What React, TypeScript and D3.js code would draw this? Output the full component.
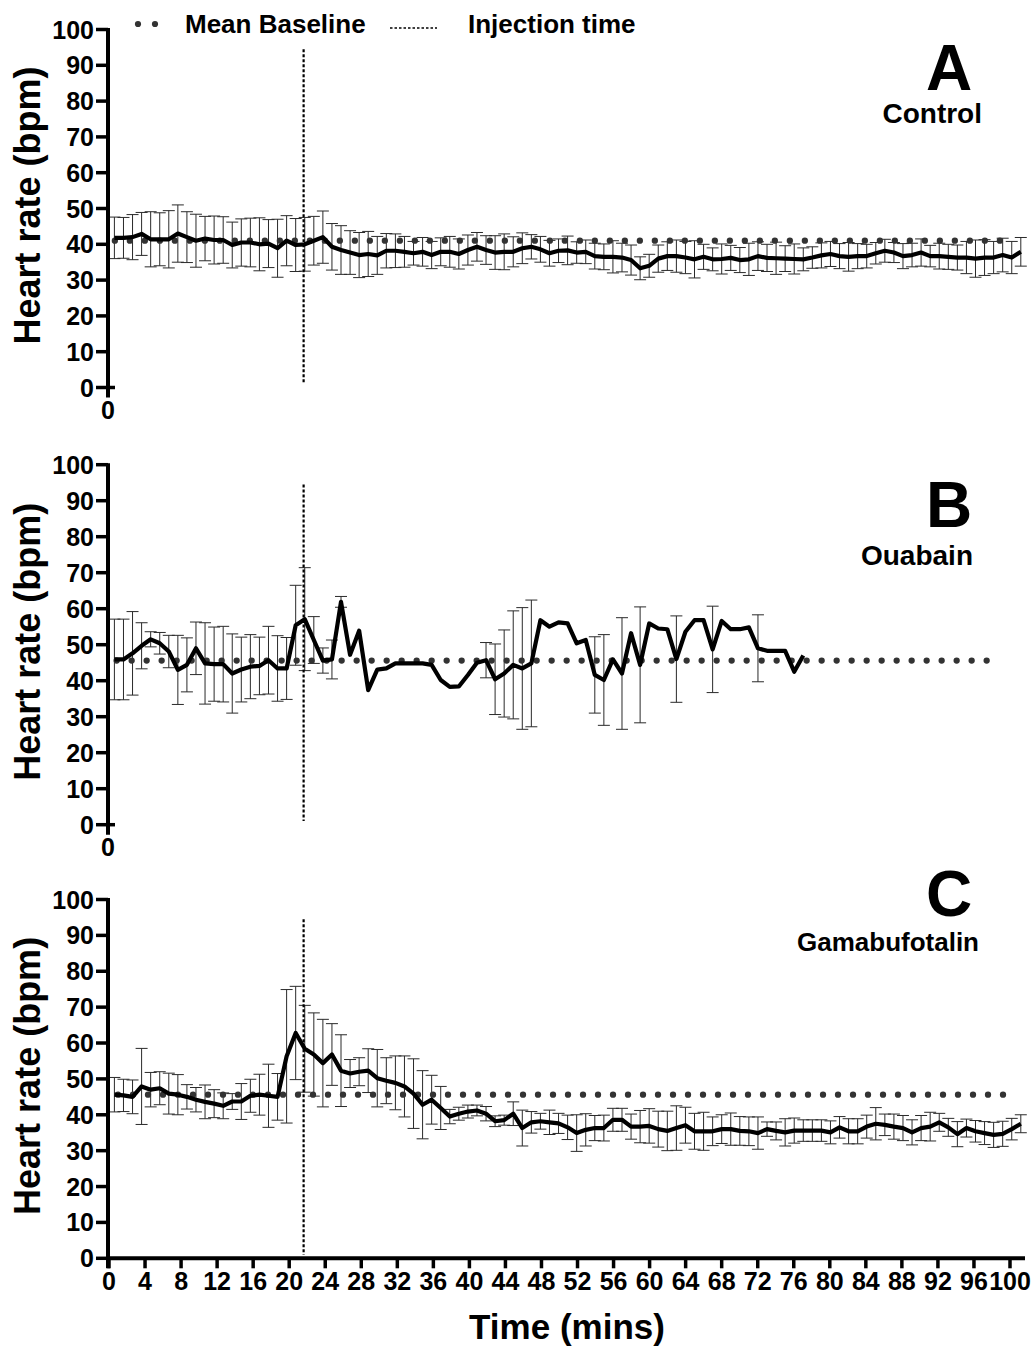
import React from "react";
import * as d3 from "d3";

// ---- data (heart rate, bpm; one sample per minute) ----
const controlMean = [
  41.8, 41.8, 42.0, 42.9, 41.4, 41.4, 41.4, 43.0, 42.0, 41.0, 41.6,
  41.2, 41.2, 39.8, 40.5, 40.5, 40.0, 40.2, 38.9, 41.0, 39.8,
  40.0, 41.0, 42.0, 39.3, 38.4, 37.7, 37.0, 37.3, 36.9, 38.2,
  38.2, 37.9, 37.5, 37.9, 37.0, 37.9, 37.9, 37.3, 38.4, 39.3,
  38.4, 37.7, 37.9, 37.9, 38.9, 39.3, 38.6, 37.5, 38.2, 38.3,
  37.7, 37.9, 36.7, 36.5, 36.5, 36.3, 35.6, 33.3, 34.0, 36.0,
  36.7, 36.7, 36.3, 35.8, 36.5, 35.8, 35.9, 36.2, 35.6, 35.8,
  36.7, 36.2, 36.1, 36.0, 35.9, 35.8, 36.3, 36.9, 37.3, 36.7,
  36.5, 36.7, 36.7, 37.5, 38.2, 37.7, 36.7, 37.0, 37.7, 36.7,
  36.7, 36.5, 36.3, 36.3, 36.0, 36.3, 36.3, 37.0, 36.3, 37.9,
];
const controlErr = [
  5.8, 5.7, 6.3, 6.0, 7.7, 7.4, 8.0, 8.0, 7.1, 7.4, 6.2,
  6.7, 6.5, 6.4, 6.6, 6.8, 7.4, 6.7, 8.1, 7.0, 7.4,
  7.5, 6.8, 7.3, 6.5, 6.8, 6.1, 6.3, 6.3, 5.3, 4.8,
  4.7, 4.3, 3.3, 4.0, 3.8, 3.9, 4.3, 4.2, 4.2, 4.0,
  4.0, 4.7, 5.0, 4.2, 4.3, 3.4, 3.6, 3.6, 3.3, 4.0,
  3.0, 3.3, 3.6, 3.6, 4.5, 4.0, 4.2, 3.2, 3.2, 3.8,
  4.0, 4.5, 4.5, 5.2, 3.5, 3.2, 4.2, 3.5, 3.5, 4.5,
  4.0, 3.8, 4.5, 3.6, 4.2, 3.2, 3.0, 3.5, 3.5, 3.5,
  4.0, 3.5, 3.3, 3.0, 3.2, 2.8, 3.5, 3.3, 3.8, 3.0,
  3.6, 3.5, 3.5, 4.5, 5.2, 5.0, 4.5, 4.7, 4.5, 4.0,
];

const ouabainMean = [
  45.9, 45.9, 47.6, 49.7, 51.5, 50.4, 48.1, 43.0, 44.4, 49.0, 44.8,
  44.6, 44.6, 42.0, 43.1, 43.9, 44.1, 45.7, 43.4, 43.4, 55.4,
  57.1, 51.3, 45.6, 45.9, 61.9, 47.2, 53.9, 37.4, 43.1, 43.4,
  44.8, 44.8, 44.8, 44.8, 44.4, 40.2, 38.3, 38.4, 41.6, 45.0,
  45.7, 40.4, 42.0, 44.4, 43.4, 44.8, 56.8, 55.0, 56.2, 55.9,
  50.4, 51.3, 41.6, 40.2, 45.9, 42.0, 53.2, 44.4, 55.9, 54.5,
  54.3, 46.0, 53.6, 56.8, 56.8, 48.7, 56.6, 54.3, 54.3, 54.8,
  49.0, 48.3, 48.3, 48.3, 42.5, 47.0,
];
const ouabainErr: (number | null)[] = [
  11.2, 11.2, 11.6, 6.4, 2.1, 3.0, 4.5, 9.6, 7.5, 7.3, 11.3,
  10.3, 10.5, 11.0, 9.0, 8.9, 8.0, 9.4, 9.1, 8.6, 11.1,
  14.3, 6.5, 3.5, 5.4, 1.5, null, null, null, null, null,
  null, null, null, null, null, null, null, null, null, null,
  4.9, 9.8, 12.1, 15.0, 16.9, 17.6, null, null, null, null,
  null, null, 10.6, 12.6, null, 15.5, null, 16.1, null, null,
  null, 12.0, null, null, null, 12.0, null, null, null, null,
  9.3, null, null, null, null, null,
];

const gamabufotalinMean = [
  45.6, 45.4, 45.0, 47.9, 47.0, 47.4, 45.9, 45.6, 45.0, 44.2, 43.6,
  43.1, 42.5, 43.7, 43.7, 45.3, 45.6, 45.3, 45.0, 56.3, 62.8,
  58.4, 56.8, 54.4, 56.8, 52.3, 51.5, 52.0, 52.3, 50.2, 49.5,
  48.9, 47.9, 45.9, 42.8, 44.2, 41.9, 39.5, 40.3, 40.9, 41.2,
  40.3, 38.2, 38.5, 40.3, 36.3, 37.9, 38.2, 37.9, 37.6, 36.5,
  34.9, 35.8, 36.3, 36.3, 38.6, 38.6, 36.7, 36.7, 36.9, 36.0,
  35.5, 36.3, 37.1, 35.4, 35.4, 35.4, 36.0, 36.0, 35.5, 35.4,
  34.9, 36.0, 35.5, 35.1, 35.6, 35.6, 35.6, 35.6, 35.1, 36.5,
  35.4, 35.4, 36.7, 37.5, 37.2, 36.7, 36.3, 35.1, 36.3, 36.7,
  37.9, 36.5, 34.6, 36.3, 35.4, 34.9, 34.4, 34.7, 36.0, 37.5,
];
const gamabufotalinErr = [
  4.8, 4.5, 4.7, 10.6, 4.8, 4.6, 5.7, 5.6, 3.4, 3.4, 4.7,
  3.9, 3.6, 2.2, 5.0, 4.6, 5.7, 8.8, 6.5, 18.6, 13.0,
  12.1, 11.6, 12.2, 8.6, 10.0, 3.9, 3.9, 6.1, 8.0, 6.4,
  7.5, 8.5, 9.7, 9.5, 6.8, 6.0, 2.0, 1.8, 1.8, 1.5,
  2.0, 1.5, 1.4, 3.3, 5.0, 3.0, 2.2, 3.4, 2.8, 3.4,
  5.1, 4.5, 3.5, 3.6, 3.2, 3.2, 3.5, 4.5, 4.8, 5.0,
  5.5, 6.2, 5.0, 5.0, 5.3, 4.0, 4.0, 4.5, 4.0, 4.0,
  4.5, 2.0, 2.5, 3.8, 3.5, 3.0, 3.0, 3.0, 3.2, 3.0,
  3.5, 3.5, 3.2, 4.5, 3.0, 3.5, 3.5, 3.5, 3.5, 4.0,
  2.5, 2.5, 3.5, 2.5, 3.0, 3.2, 3.5, 3.5, 3.0, 2.5,
];

const panelLetters = ["A", "B", "C"];
const panelNames = ["Control", "Ouabain", "Gamabufotalin"];
const meanBaselines = [41, 45.6, 45.6];
const baselineSpans = [[0.65, 100.4], [0.85, 98.4], [1.0, 100.4]];
const injectionTime = 21.6;
const injectionSpan = [1, 94.5];

const yTicks = [0, 10, 20, 30, 40, 50, 60, 70, 80, 90, 100];
const xTicks = [0, 4, 8, 12, 16, 20, 24, 28, 32, 36, 40, 44, 48, 52, 56, 60, 64, 68, 72, 76, 80, 84, 88, 92, 96, 100];

// sampling clock (minutes) of the recordings
const firstSample = 0.6;
const sampleInterval = 1.006;
const sampleTime = (i: number) => firstSample + i * sampleInterval;

const FONT = "'Liberation Sans', Arial, Helvetica, sans-serif";

const W = 1033;
const H = 1350;
const axisX = 108;
const x = d3.scaleLinear().domain([0, 100]).range([109, 1010]);
const xAxisEnd = 1025;

const panelTops = [29.5, 464.7, 899.5];
const panelBottoms = [387.5, 824.7, 1258.3];

type Series = { mean: number[]; err: (number | null)[] };
const series: Series[] = [
  { mean: controlMean, err: controlErr },
  { mean: ouabainMean, err: ouabainErr },
  { mean: gamabufotalinMean, err: gamabufotalinErr },
];

const TICK_FONT = 25;

function Panel({ k }: { k: number }) {
  const y = d3.scaleLinear().domain([0, 100]).range([panelBottoms[k], panelTops[k]]);
  const { mean, err } = series[k];
  const line = d3
    .line<number>()
    .x((_, i) => x(sampleTime(i)))
    .y((d) => y(d));
  const y0 = y(0);
  const showXAxis = k === 2;
  const mid = (panelTops[k] + panelBottoms[k]) / 2;
  const letterBase = [90, 527, 916][k];
  const nameBase = [123, 565, 951][k];
  const nameSize = [28, 28, 26][k];
  const nameRight = [982, 973, 979][k];

  return (
    <g>
      {/* error bars */}
      <g stroke="#2a2a2a" strokeWidth={1} fill="none">
        {mean.map((m, i) => {
          const e = err[i];
          if (e == null) return null;
          const cx = x(sampleTime(i));
          const yt = y(m + e);
          const yb = y(m - e);
          return (
            <g key={i}>
              <line x1={cx} x2={cx} y1={yt} y2={yb} />
              <line x1={cx - 6} x2={cx + 6} y1={yt} y2={yt} />
              <line x1={cx - 6} x2={cx + 6} y1={yb} y2={yb} />
            </g>
          );
        })}
      </g>

      {/* mean baseline */}
      <line
        x1={x(baselineSpans[k][0])}
        x2={x(baselineSpans[k][1])}
        y1={y(meanBaselines[k])}
        y2={y(meanBaselines[k])}
        stroke="#333"
        strokeWidth={6.3}
        strokeLinecap="round"
        strokeDasharray="0 15"
      />

      {/* mean heart rate */}
      <path d={line(mean) ?? ""} fill="none" stroke="#000" strokeWidth={4.2} strokeLinejoin="round" />

      {/* injection time */}
      <line
        x1={x(injectionTime)}
        x2={x(injectionTime)}
        y1={y(injectionSpan[1])}
        y2={y(injectionSpan[0])}
        stroke="#000"
        strokeWidth={2.2}
        strokeDasharray="3 2"
      />

      {/* y axis */}
      <line x1={axisX} x2={axisX} y1={y(100) - 1.5} y2={y0 + 10} stroke="#000" strokeWidth={4} />
      {yTicks.map((t) => (
        <g key={t}>
          <line x1={axisX - 12} x2={axisX} y1={y(t)} y2={y(t)} stroke="#000" strokeWidth={3.5} />
          <text
            x={axisX - 14}
            y={y(t)}
            dy="0.36em"
            textAnchor="end"
            fontFamily={FONT}
            fontWeight="bold"
            fontSize={TICK_FONT}
          >
            {t}
          </text>
        </g>
      ))}

      {/* x axis */}
      {showXAxis ? (
        <g>
          <line x1={axisX - 2} x2={xAxisEnd} y1={y0} y2={y0} stroke="#000" strokeWidth={4} />
          {xTicks.map((t) => (
            <g key={t}>
              <line x1={x(t)} x2={x(t)} y1={y0} y2={y0 + 10} stroke="#000" strokeWidth={3.5} />
              <text
                x={x(t)}
                y={y0 + 32}
                textAnchor="middle"
                fontFamily={FONT}
                fontWeight="bold"
                fontSize={TICK_FONT}
              >
                {t}
              </text>
            </g>
          ))}
        </g>
      ) : (
        <g>
          <line x1={axisX - 2} x2={axisX + 7} y1={y0} y2={y0} stroke="#000" strokeWidth={3.5} />
          <text
            x={axisX}
            y={y0 + 31}
            textAnchor="middle"
            fontFamily={FONT}
            fontWeight="bold"
            fontSize={TICK_FONT}
          >
            0
          </text>
        </g>
      )}

      {/* y axis title */}
      <text
        transform={`translate(40, ${mid - 3}) rotate(-90)`}
        textAnchor="middle"
        fontFamily={FONT}
        fontWeight="bold"
        fontSize={36}
      >
        Heart rate (bpm)
      </text>

      {/* panel letter and treatment */}
      <text x={949} y={letterBase} textAnchor="middle" fontFamily={FONT} fontWeight="bold" fontSize={64}>
        {panelLetters[k]}
      </text>
      <text
        x={nameRight}
        y={nameBase}
        textAnchor="end"
        fontFamily={FONT}
        fontWeight="bold"
        fontSize={nameSize}
      >
        {panelNames[k]}
      </text>
    </g>
  );
}

export default function App() {
  return (
    <svg
      width={W}
      height={H}
      viewBox={`0 0 ${W} ${H}`}
      style={{ position: "absolute", left: 0, top: 0, background: "#fff" }}
    >
      <rect width={W} height={H} fill="#fff" />

      {/* legend */}
      <g>
        <circle cx={138} cy={24} r={3.1} fill="#333" />
        <circle cx={155} cy={24} r={3.1} fill="#333" />
        <text x={185} y={33} fontFamily={FONT} fontWeight="bold" fontSize={26}>
          Mean Baseline
        </text>
        <line x1={390} x2={437} y1={28} y2={28} stroke="#000" strokeWidth={1.6} strokeDasharray="2.5 2" />
        <text x={468} y={33} fontFamily={FONT} fontWeight="bold" fontSize={26}>
          Injection time
        </text>
      </g>

      {[0, 1, 2].map((k) => (
        <Panel key={k} k={k} />
      ))}

      {/* x axis title */}
      <text x={567} y={1339} textAnchor="middle" fontFamily={FONT} fontWeight="bold" fontSize={35}>
        Time (mins)
      </text>
    </svg>
  );
}
